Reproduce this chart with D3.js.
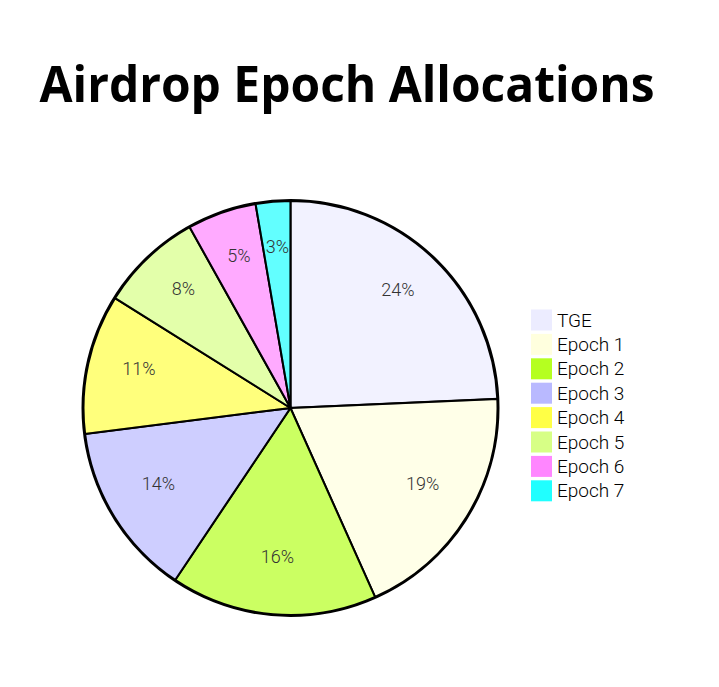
<!DOCTYPE html>
<html>
<head>
<meta charset="utf-8">
<script src="https://cdn.jsdelivr.net/npm/d3@7"></script>
<style>
  body { margin: 0; background: #fff; }
  svg { display: block; }
</style>
</head>
<body>
<div class="canvas"></div>
<script>
// data
const categories = ['TGE', 'Epoch 1', 'Epoch 2', 'Epoch 3', 'Epoch 4', 'Epoch 5', 'Epoch 6', 'Epoch 7'];
const values = [24.3, 19, 16.1, 13.6, 10.9, 8, 5.4, 2.7];
const colors = ['#ECECFF', '#FFFFDE', 'hsl(80,100%,56.3%)', 'hsl(240,100%,86.3%)',
  'hsl(60,100%,63.5%)', 'hsl(80,100%,76.3%)', 'hsl(300,100%,76.3%)', 'hsl(180,100%,56.3%)'];
const title = 'Airdrop Epoch Allocations';

const width = 719;
const height = 687;
const cx = 290.5;
const cy = 408;
const radius = 207;

const svg = d3
  .select('.canvas')
  .append('svg')
  .attr('width', width)
  .attr('height', height);

//title
svg
  .append('text')
  .attr('x', 347)
  .attr('y', 102)
  .attr('text-anchor', 'middle')
  .attr('textLength', 615)
  .attr('lengthAdjust', 'spacingAndGlyphs')
  .style('font-family', '"Open Sans", sans-serif')
  .style('font-weight', 700)
  .style('font-size', '51px')
  .text(title);

const data = categories.map((c, i) => ({ label: c, value: values[i] }));
const total = d3.sum(values);

const color = d3.scaleOrdinal().domain(categories).range(colors);

const pie = d3.pie().value((d) => d.value).sort(null);
const arc = d3.arc().innerRadius(0).outerRadius(radius);
const labelArc = d3.arc().innerRadius(radius * 0.75).outerRadius(radius * 0.75);

const graph = svg.append('g').attr('transform', `translate(${cx}, ${cy})`);

//outer ring
graph
  .append('circle')
  .attr('r', radius + 1)
  .attr('fill', 'none')
  .attr('stroke', '#000')
  .attr('stroke-width', 2);

graph
  .selectAll('path')
  .data(pie(data))
  .enter()
  .append('path')
  .attr('d', arc)
  .attr('fill', (d) => color(d.data.label))
  .attr('fill-opacity', 0.7)
  .attr('stroke', '#000')
  .attr('stroke-width', 2);

//slice labels, baseline on the centroid
graph
  .selectAll('text.slice')
  .data(pie(data))
  .enter()
  .append('text')
  .attr('class', 'slice')
  .attr('transform', (d) => `translate(${labelArc.centroid(d)})`)
  .attr('text-anchor', 'middle')
  .style('font-family', 'Roboto, sans-serif')
  .style('font-weight', 300)
  .style('font-size', '18px')
  .style('fill', '#333')
  .text((d) => ((d.data.value / total) * 100).toFixed(0) + '%');

//legend
const legend = svg
  .selectAll('g.legend')
  .data(data)
  .enter()
  .append('g')
  .attr('class', 'legend')
  .attr('transform', (d, i) => `translate(531, ${320 + i * 24.4})`);

legend
  .append('rect')
  .attr('x', 0)
  .attr('y', -10.5)
  .attr('width', 21)
  .attr('height', 21)
  .attr('fill', (d) => color(d.label));

legend
  .append('text')
  .attr('x', 26)
  .attr('y', 0)
  .attr('dy', '0.35em')
  .style('font-family', 'Roboto, sans-serif')
  .style('font-weight', 300)
  .style('font-size', '19px')
  .style('fill', '#000')
  .text((d) => d.label);
</script>
</body>
</html>
